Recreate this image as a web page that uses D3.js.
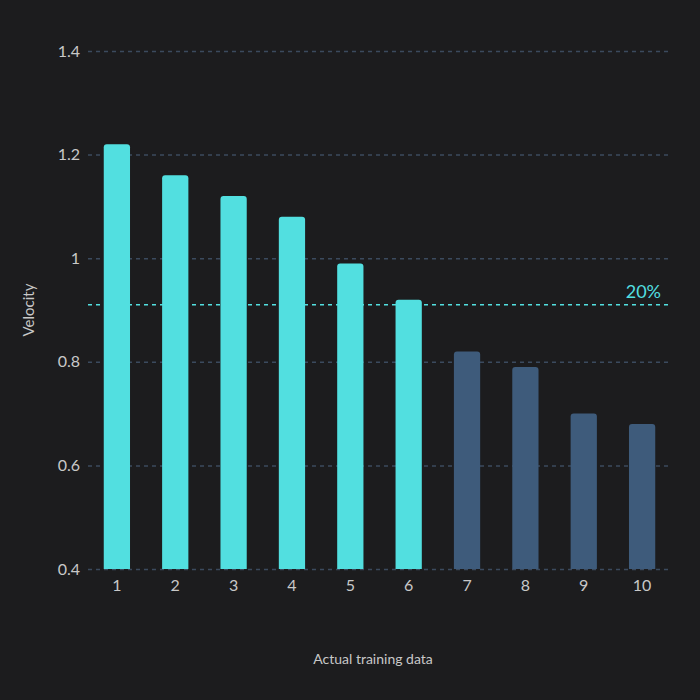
<!DOCTYPE html>
<html><head><meta charset="utf-8">
<script src="https://cdn.jsdelivr.net/npm/d3@7"></script>
<style>body{margin:0;background:#1c1c1e}text{font-family:Lato,sans-serif}</style>
</head><body><svg id="c" width="700" height="700"></svg>
<script>
const categories = ['1','2','3','4','5','6','7','8','9','10'];
const values = [1.22, 1.16, 1.12, 1.08, 0.99, 0.92, 0.82, 0.79, 0.70, 0.68];
const yTicks = [0.4, 0.6, 0.8, 1, 1.2, 1.4];
const threshold = 0.91;
const thresholdLabel = '20%';
const highlightCount = 6;

const svg = d3.select('#c');
svg.append('rect').attr('width', 700).attr('height', 700).attr('fill', '#1c1c1e');

const x = d3.scaleBand().domain(categories).range([88, 671]).paddingInner(0.55).paddingOuter(0.27);
const y = d3.scaleLinear().domain([0.4, 1.4]).range([569, 51]);

// grid
const yAxis = svg.append('g').attr('transform', 'translate(88,0)')
  .call(d3.axisLeft(y).tickValues(yTicks).tickSize(-583).tickFormat(d3.format('')));
yAxis.select('.domain').remove();
yAxis.selectAll('line').attr('stroke', '#3b4a5e').attr('stroke-dasharray', '4,4').attr('stroke-width', 1.5);
yAxis.selectAll('text').attr('fill', '#c8c8c8').attr('font-size', 16).attr('x', -8);

// bars with rounded tops
const r = 3;
svg.append('g').selectAll('path').data(values).join('path')
  .attr('fill', (d, i) => i < highlightCount ? '#52dfe0' : '#3e5b7b')
  .attr('d', (d, i) => {
    const x0 = x(categories[i]), w = x.bandwidth(), y0 = y(d), yb = y(0.4);
    return `M${x0},${yb}V${y0 + r}Q${x0},${y0} ${x0 + r},${y0}H${x0 + w - r}Q${x0 + w},${y0} ${x0 + w},${y0 + r}V${yb}Z`;
  });

// x axis labels
const xAxis = svg.append('g').attr('transform', 'translate(0,569)')
  .call(d3.axisBottom(x).tickSize(0));
xAxis.select('.domain').remove();
xAxis.selectAll('text').attr('fill', '#c8c8c8').attr('font-size', 16).attr('dy', '1.2em');

// threshold
svg.append('line').attr('x1', 88).attr('x2', 671).attr('y1', y(threshold)).attr('y2', y(threshold))
  .attr('stroke', '#52dfe0').attr('stroke-width', 1.5).attr('stroke-dasharray', '4,4');
svg.append('text').attr('x', 661).attr('y', y(threshold) - 7).attr('text-anchor', 'end')
  .attr('fill', '#52dfe0').attr('font-size', 18).text(thresholdLabel);

// axis titles
svg.append('text').attr('x', 373).attr('y', 664).attr('text-anchor', 'middle')
  .attr('fill', '#c8c8c8').attr('font-size', 14).text('Actual training data');
svg.append('text').attr('transform', 'translate(34,310) rotate(-90)').attr('text-anchor', 'middle')
  .attr('fill', '#c8c8c8').attr('font-size', 15).text('Velocity');
</script></body></html>
